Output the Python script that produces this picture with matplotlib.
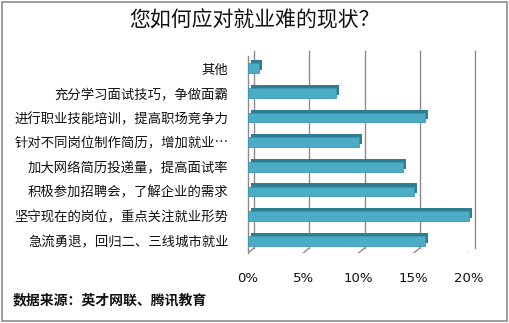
import matplotlib
matplotlib.use('Agg')
import matplotlib.pyplot as plt
import matplotlib.transforms as mtransforms
from matplotlib.patches import Rectangle

plt.rcParams['font.family'] = ['Noto Sans CJK SC', 'DejaVu Sans']

# data (top to bottom as in the chart)
categories = ['其他', '充分学习面试技巧，争做面霸', '进行职业技能培训，提高职场竞争力',
              '针对不同岗位制作简历，增加就业…', '加大网络简历投递量，提高面试率',
              '积极参加招聘会，了解企业的需求', '坚守现在的岗位，重点关注就业形势',
              '急流勇退，回归二、三线城市就业']
shares = [1, 8, 16, 10, 14, 15, 20, 16]
xticks = [0, 5, 10, 15, 20]
xticklabels = ['0%', '5%', '10%', '15%', '20%']

W, H = 509, 323
fig = plt.figure(figsize=(W / 100, H / 100), dpi=100)
fig.patch.set_facecolor('white')
fig.patches.append(Rectangle((0.004, 0.006), 0.992, 0.988, transform=fig.transFigure,
                             fill=False, edgecolor='#8c8c8c', linewidth=1.2))

# axes: front plane 248..469 px, 56..253 px from top
ax = fig.add_axes([248 / W, 1 - 253 / H, 221 / W, 197 / H])
ax.set_xlim(0, 20)
n = len(categories)
ax.set_ylim(n - 0.5, -0.5)
for s in ax.spines.values():
    s.set_visible(False)

ypos = list(range(n))
dx, dy = 6, 5  # depth of the fake 3d, in pixels
back = mtransforms.offset_copy(ax.transData, fig=fig, x=dx * 0.72, y=dy * 0.72, units='points')

# back wall gridlines and floor lines
for xv in xticks:
    ax.plot([xv, xv], [n - 0.5, -0.5], transform=back, color='#8c8c8c', lw=1, clip_on=False)
    ax.plot([xv, xv], [n - 0.5, n - 0.5], color='#8c8c8c', lw=1, clip_on=False)
    xa, ya = ax.transData.transform((xv, n - 0.5))
    xb, yb = back.transform((xv, n - 0.5))
    ax.add_line(plt.Line2D([xa, xb], [ya, yb], transform=None, color='#8c8c8c', lw=1))
    ax.add_line(plt.Line2D([xa, xa], [ya, ya - 3], transform=None, color='#8c8c8c', lw=1))
# left axis line and its back edge
ax.plot([0, 0], [n - 0.5, -0.5], color='#8c8c8c', lw=1, clip_on=False)
xa, ya = ax.transData.transform((0, -0.5))
xb, yb = back.transform((0, -0.5))
ax.add_line(plt.Line2D([xa, xb], [ya, yb], transform=None, color='#8c8c8c', lw=1))
for k in range(n + 1):
    xa, ya = ax.transData.transform((0, k - 0.5))
    ax.add_line(plt.Line2D([xa - 4, xa], [ya, ya], transform=None, color='#8c8c8c', lw=1))

# bars: darker copy offset for depth, then the front face
depth = mtransforms.offset_copy(ax.transData, fig=fig, x=2.2, y=2.2, units='points')
shade = ax.barh(ypos, shares, height=0.4, left=0, color='#2f7d92', transform=depth, zorder=3)
front = ax.barh(ypos, shares, height=0.4, left=0, color='#4bacc6', edgecolor='#3f97ae',
                linewidth=0.6, zorder=4)
for p in list(shade) + list(front):
    p.set_clip_on(False)

ax.set_yticks(ypos)
ax.set_yticklabels(categories, fontsize=9.6)
ax.tick_params(axis='y', length=0, pad=14, colors='#111111')
ax.set_xticks(xticks)
ax.set_xticklabels(xticklabels, fontsize=9.5, family=['DejaVu Sans'])
ax.tick_params(axis='x', length=0, pad=14, colors='#111111')

fig.text(0.5, 1 - 20 / H, '您如何应对就业难的现状？', ha='center', va='center',
         fontsize=15, color='#111111')
fig.text(13 / W, 1 - 300 / H, '数据来源：英才网联、腾讯教育', ha='left', va='center',
         fontsize=10, fontweight='bold', color='#111111')

fig.savefig('out.png', dpi=100)
